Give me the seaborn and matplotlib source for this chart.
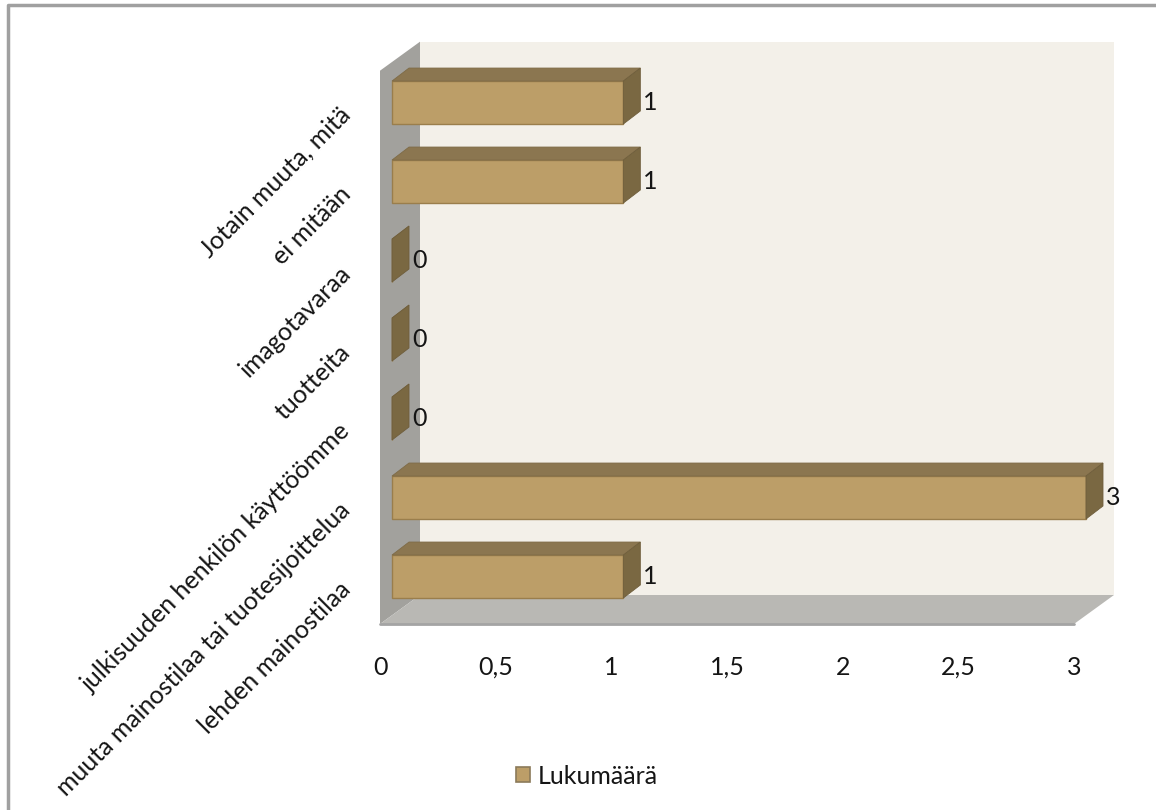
import numpy as np
import pandas as pd
import seaborn as sns
import matplotlib
matplotlib.use("Agg")
import matplotlib.pyplot as plt
from matplotlib.patches import Polygon, Patch
from matplotlib.lines import Line2D
from matplotlib.transforms import offset_copy

# Survey answers and their counts
categories = [
    "Jotain muuta, mitä",
    "ei mitään",
    "imagotavaraa",
    "tuotteita",
    "julkisuuden henkilön käyttöömme",
    "muuta mainostilaa tai tuotesijoittelua",
    "lehden mainostilaa",
]
counts = [1, 1, 0, 0, 0, 3, 1]
x_ticks = [0, 0.5, 1, 1.5, 2, 2.5, 3]
x_tick_labels = ["0", "0,5", "1", "1,5", "2", "2,5", "3"]
series_name = "Lukumäärä"

# Colours of the pseudo-3D box look
FRONT = "#BC9E68"
TOP = "#8B7650"
SIDE = "#7A6842"
EDGE = "#9A7E4C"
BACK_WALL = "#F3F0E9"
SIDE_WALL = "#A2A19D"
FLOOR = "#B9B8B4"
TEXT = "#151515"
FS = 18

sns.set_theme(style="white")
plt.rcParams["font.family"] = ["Lato", "DejaVu Sans"]
plt.rcParams["text.color"] = TEXT
plt.rcParams["xtick.color"] = TEXT
plt.rcParams["ytick.color"] = TEXT

W, H = 1156, 810
fig = plt.figure(figsize=(W / 100, H / 100), dpi=100)
fig.patch.set_facecolor("white")
ax = fig.add_axes([380 / W, 1 - 624 / H, 694 / W, (624 - 70.7) / H])
ax.set_facecolor("none")

df = pd.DataFrame({"kategoria": categories, "lukumaara": counts})
n_before = len(ax.patches)
sns.barplot(data=df, x="lukumaara", y="kategoria", orient="h", color=FRONT,
            saturation=1, width=0.544, edgecolor=EDGE, linewidth=1.0,
            ax=ax, zorder=3)
bars = ax.patches[n_before:]

Y_TOP, Y_BOT = -0.513, 6.491
ax.set_xlim(0, 3)
ax.set_ylim(Y_BOT, Y_TOP)

# Oblique depth offsets in pixels (right, down)
WALL_DEPTH = (40, -29)
BAR_FRONT = (12, -8.7)
BAR_DEPTH = (17, -13)


def moved(points, dx, dy):
    disp = ax.transData.transform(np.asarray(points, dtype=float))
    disp[:, 0] += dx
    disp[:, 1] -= dy
    return ax.transData.inverted().transform(disp)


def face(points, color, z, ec="none", lw=0):
    ax.add_patch(Polygon(points, closed=True, facecolor=color, edgecolor=ec,
                         linewidth=lw, clip_on=False, zorder=z))


# Back wall, side wall and floor
base_box = np.array([[0, Y_TOP], [3, Y_TOP], [3, Y_BOT], [0, Y_BOT]])
face(moved(base_box, *WALL_DEPTH), BACK_WALL, 0.5)
side_front = np.array([[0, Y_TOP], [0, Y_BOT]])
side_back = moved(side_front, *WALL_DEPTH)
face([side_front[0], side_back[0], side_back[1], side_front[1]], SIDE_WALL, 0.6)
floor_front = np.array([[0, Y_BOT], [3, Y_BOT]])
floor_back = moved(floor_front, *WALL_DEPTH)
face([floor_front[0], floor_front[1], floor_back[1], floor_back[0]], FLOOR, 0.7)
ax.add_line(Line2D(floor_front[:, 0], floor_front[:, 1], color="#A4A4A4",
                   lw=2, clip_on=False, zorder=0.8))

# Bars: shift the front faces, then add top and side faces
front_tr = offset_copy(ax.transData, fig=fig, x=BAR_FRONT[0], y=-BAR_FRONT[1],
                       units="dots")
label_tr = offset_copy(ax.transData, fig=fig, x=BAR_FRONT[0] + BAR_DEPTH[0] + 3,
                       y=-BAR_FRONT[1], units="dots")
for rect, val in zip(bars, counts):
    rect.set_transform(front_tr)
    rect.set_clip_on(False)
    x0, y0 = rect.get_x(), rect.get_y()
    w, h = rect.get_width(), rect.get_height()
    ftl, ftr, fbr = moved([[x0, y0], [x0 + w, y0], [x0 + w, y0 + h]], *BAR_FRONT)
    btl, btr, bbr = moved([ftl, ftr, fbr], *BAR_DEPTH)
    face([ftl, ftr, btr, btl], TOP, 3.1, ec="#7E6B47", lw=0.6)
    face([ftr, fbr, bbr, btr], SIDE, 3.2, ec="#6F5E3C", lw=0.6)
    ax.text(x0 + w, y0 + h / 2, f"{val:g}", transform=label_tr, ha="left",
            va="center", fontsize=FS, color=TEXT, zorder=4)

# Axes text
ax.set_xlabel("")
ax.set_ylabel("")
for s in ax.spines.values():
    s.set_visible(False)
ax.grid(False)
ax.set_xticks(x_ticks, x_tick_labels)
ax.set_yticks(range(len(categories)))
ax.set_yticklabels(categories, rotation=45, ha="right", va="center",
                   rotation_mode="anchor")
ax.tick_params(axis="x", length=0, pad=23, labelsize=FS)
ax.tick_params(axis="y", length=0, pad=24, labelsize=FS)

# Legend
fig.legend(handles=[Patch(facecolor=FRONT, edgecolor="#8B7A5A", linewidth=1.2,
                          label=series_name)],
           loc="center", bbox_to_anchor=(587 / W, 1 - 776 / H), frameon=False,
           fontsize=FS, handlelength=0.56, handleheight=0.56,
           handletextpad=0.3, borderpad=0)

# Outer frame (top and left edges)
fig.add_artist(Line2D([8 / W, 8 / W, 1.0], [0.0, 1 - 5 / H, 1 - 5 / H],
                      color="#A0A0A0", lw=2.5, transform=fig.transFigure))

fig.savefig("out.png", dpi=100)
